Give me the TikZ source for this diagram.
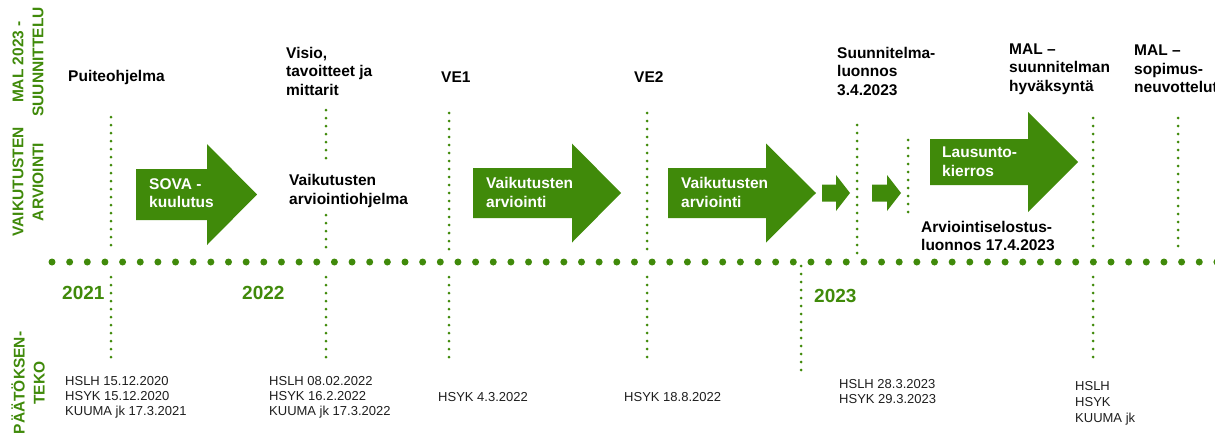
\documentclass[tikz,border=0pt]{standalone}
\usepackage{fontspec}
\setmainfont{Liberation Sans}
\usepackage{tikz}
\usetikzlibrary{positioning}

\definecolor{malgreen}{RGB}{64,138,10}
\definecolor{datetext}{RGB}{30,30,30}

\tikzset{
  toplabel/.style={anchor=west,inner sep=0pt,align=left,
    font=\fontsize{15.5}{18.5}\selectfont\bfseries},
  arrowlabel/.style={toplabel,text=white},
  datelabel/.style={anchor=west,inner sep=0pt,align=left,text=datetext,
    font=\fontsize{13}{15}\selectfont},
  yearlabel/.style={anchor=west,inner sep=0pt,text=malgreen,
    font=\fontsize{19}{22}\selectfont\bfseries},
  sidelabel/.style={rotate=90,inner sep=0pt,align=center,text=malgreen,
    font=\fontsize{15.5}{20}\selectfont\bfseries},
  timedots/.style={malgreen,line width=7pt,line cap=round,
    dash pattern=on 0pt off 17.65pt},
  markdots/.style={malgreen,line width=3pt,line cap=round,
    dash pattern=on 0pt off 8pt}
}

\newcommand{\drawmark}[3]
{
  \draw [markdots] (#1,#2) -- (#1,#3);
}
% left x, head x, tip x, middle y, half body, half head
\newcommand{\drawgreenarrow}[6]
{
  \fill [malgreen] (#1,#4-#5) -- (#2,#4-#5) -- (#2,#4-#6) -- (#3,#4)
    -- (#2,#4+#6) -- (#2,#4+#5) -- (#1,#4+#5) -- cycle;
}

\begin{document}
\begin{tikzpicture}[x=1pt,y=-1pt]
    \useasboundingbox (0,0) rectangle (1215,445);

    % rows on the left
    \node[sidelabel] (rowmal) at (28,62) {MAL 2023 -\\SUUNNITTELU};
    \node[sidelabel] (rowva) at (28,182) {VAIKUTUSTEN\\ARVIOINTI};
    \node[sidelabel] (rowpt) at (28,383) {PÄÄTÖKSEN-\\TEKO};

    % time line
    \draw [timedots] (52,262) -- (1235,262);

    % marks above the line
    \drawmark{111}{117}{247}
    \drawmark{326}{110}{160}
    \drawmark{326}{215}{249}
    \drawmark{449}{113}{250}
    \drawmark{647}{113}{250}
    \drawmark{857}{125}{254}
    \drawmark{908}{140}{212}
    \drawmark{1093}{118}{247}
    \drawmark{1178}{118}{247}

    % marks below the line
    \drawmark{111}{277}{357}
    \drawmark{326}{277}{357}
    \drawmark{449}{277}{357}
    \drawmark{647}{277}{357}
    \drawmark{801}{266}{370}
    \drawmark{1093}{277}{357}

    % phases
    \drawgreenarrow{136}{207}{257}{194.5}{25.5}{50.5}
    \drawgreenarrow{473}{572}{621}{193}{25}{49.5}
    \drawgreenarrow{668}{766}{816}{193}{25}{49.5}
    \drawgreenarrow{822}{836}{850}{193}{8.5}{18}
    \drawgreenarrow{872}{887}{901}{193}{8.5}{18}
    \drawgreenarrow{930}{1028}{1078}{162}{23}{50}

    \node[arrowlabel] (sova) at (149,193) {SOVA -\\kuulutus};
    \node[arrowlabel] (va1) at (486,192.5) {Vaikutusten\\arviointi};
    \node[arrowlabel] (va2) at (681,192.5) {Vaikutusten\\arviointi};
    \node[arrowlabel] (lausunto) at (942,161.5) {Lausunto-\\kierros};

    % planning steps
    \node[toplabel] (puite) at (68,77) {Puiteohjelma};
    \node[toplabel] (visio) at (286,71) {Visio,\\tavoitteet ja\\mittarit};
    \node[toplabel] (ve1) at (441,77) {VE1};
    \node[toplabel] (ve2) at (634,77) {VE2};
    \node[toplabel] (luonnos) at (837,71) {Suunnitelma-\\luonnos\\3.4.2023};
    \node[toplabel] (hyvaksynta) at (1009,69) {MAL --\\suunnitelman\\hyväksyntä};
    \node[toplabel] (sopimus) at (1134,69) {MAL --\\sopimus-\\neuvottelut};
    \node[toplabel] (ohjelma) at (289,191) {Vaikutusten\\arviointiohjelma};
    \node[toplabel] (selostus) at (921,236) {Arviointiselostus-\\luonnos 17.4.2023};

    % years
    \node[yearlabel] (y2021) at (62,293) {2021};
    \node[yearlabel] (y2022) at (242,293) {2022};
    \node[yearlabel] (y2023) at (814,296) {2023};

    % decisions
    \node[datelabel] (d1) at (65,397) {HSLH 15.12.2020\\HSYK 15.12.2020\\KUUMA jk 17.3.2021};
    \node[datelabel] (d2) at (269,397) {HSLH 08.02.2022\\HSYK 16.2.2022\\KUUMA jk 17.3.2022};
    \node[datelabel] (d3) at (438,397) {HSYK 4.3.2022};
    \node[datelabel] (d4) at (624,397) {HSYK 18.8.2022};
    \node[datelabel] (d5) at (839,391.5) {HSLH 28.3.2023\\HSYK 29.3.2023};
    \node[datelabel,font=\fontsize{13}{16}\selectfont] (d6) at (1075,403) {HSLH\\HSYK\\KUUMA jk};
\end{tikzpicture}
\end{document}
